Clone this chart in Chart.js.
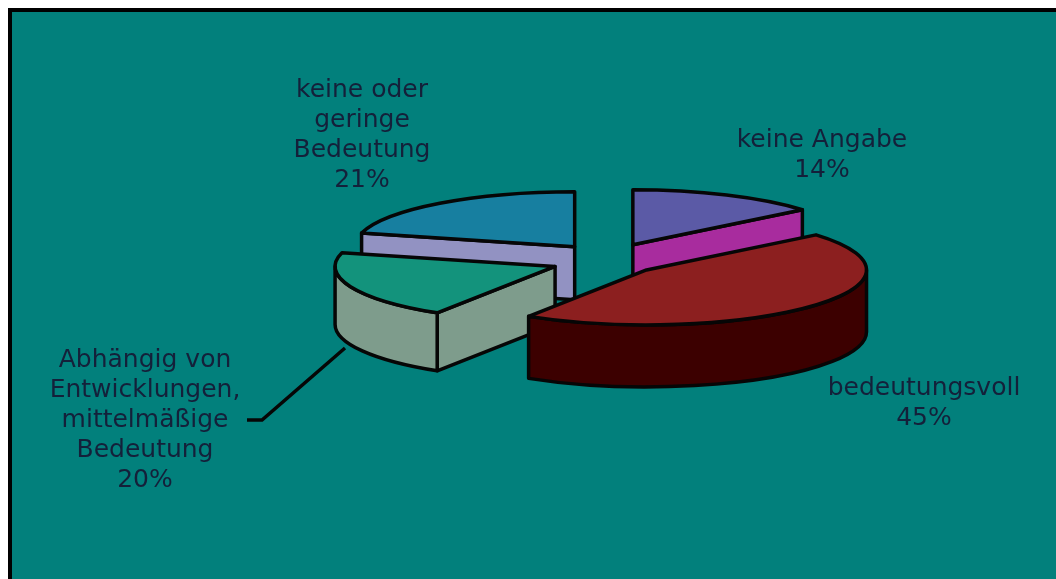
<!DOCTYPE html>
<html>
<head>
<meta charset="utf-8">
<script src="https://cdn.jsdelivr.net/npm/chart.js@4.4.1/dist/chart.umd.min.js"></script>
<style>
  html, body { margin: 0; padding: 0; background: #ffffff; overflow: hidden; }
  #frame {
    position: absolute; left: 8px; top: 8px; right: 0; bottom: 0;
    border-left: 4px solid #000; border-top: 4px solid #000;
    background: #02807c;
  }
  #pieChart { position: absolute; left: 0; top: 0; }
</style>
</head>
<body>
<div id="frame"></div>
<canvas id="pieChart" width="1056" height="579"></canvas>
<script>
// Data, clockwise from 12 o'clock
const categories = ['keine Angabe', 'bedeutungsvoll', 'Abhängig von Entwicklungen, mittelmäßige Bedeutung', 'keine oder geringe Bedeutung'];
const values = [14, 45, 20, 21];
const labelLines = [
    ['keine Angabe'],
    ['bedeutungsvoll'],
    ['Abhängig von', 'Entwicklungen,', 'mittelmäßige', 'Bedeutung'],
    ['keine oder', 'geringe', 'Bedeutung']
];

const topColors = ['#5b5aa6', '#8c1f1f', '#13937c', '#177fa0'];
const sideColors = ['#a82c9e', '#3c0000', '#7e9c8c', '#9292c2'];

// Fake 3D: project the flat pie onto a tilted ellipse and extrude it
const pie3d = {
    id: 'pie3d',
    beforeDatasetsDraw(chart, args, opts) {
        const ctx = chart.ctx;
        const arcs = chart.getDatasetMeta(0).data;
        const mids = arcs.map(a => (a.startAngle + a.endAngle) / 2);
        // back slices first
        const order = arcs.map((a, i) => i).sort((p, q) => Math.sin(mids[p]) - Math.sin(mids[q]));

        ctx.save();
        ctx.lineWidth = 3.5;
        ctx.lineJoin = 'round';
        ctx.strokeStyle = '#060606';

        const paint = (fill) => {
            ctx.fillStyle = fill;
            ctx.fill();
            ctx.stroke();
        };

        order.forEach(i => {
            const arc = arcs[i];
            const { x, y, startAngle: a, endAngle: b, outerRadius: r } =
                arc.getProps(['x', 'y', 'startAngle', 'endAngle', 'outerRadius'], true);
            const off = arc.options.offset;
            const cx = x + Math.cos(mids[i]) * off;
            const cy = y + Math.sin(mids[i]) * off * opts.offsetTilt;
            const ry = r * opts.tilt;
            const D = opts.depth[i];
            const pt = t => [cx + r * Math.cos(t), cy + ry * Math.sin(t)];
            const side = opts.sideColors[i];

            const radialFace = (t) => {
                const p = pt(t);
                ctx.beginPath();
                ctx.moveTo(cx, cy);
                ctx.lineTo(p[0], p[1]);
                ctx.lineTo(p[0], p[1] + D);
                ctx.lineTo(cx, cy + D);
                ctx.closePath();
                paint(side);
            };
            if (Math.cos(a) < -1e-6) radialFace(a);
            if (Math.cos(b) > 1e-6) radialFace(b);

            const t0 = Math.max(a, 0), t1 = Math.min(b, Math.PI);
            if (t1 > t0) {
                const p1 = pt(t1);
                ctx.beginPath();
                ctx.ellipse(cx, cy, r, ry, 0, t0, t1);
                ctx.lineTo(p1[0], p1[1] + D);
                ctx.ellipse(cx, cy + D, r, ry, 0, t1, t0, true);
                ctx.closePath();
                paint(side);
            }

            ctx.beginPath();
            ctx.moveTo(cx, cy);
            ctx.ellipse(cx, cy, r, ry, 0, a, b);
            ctx.closePath();
            paint(arc.options.backgroundColor);
        });
        ctx.restore();
        return false;
    },
    afterDraw(chart, args, opts) {
        const ctx = chart.ctx;
        ctx.save();
        ctx.font = '25px "DejaVu Sans"';
        ctx.textAlign = 'center';
        ctx.textBaseline = 'alphabetic';
        ctx.fillStyle = '#14203a';
        values.forEach((v, i) => {
            const lines = labelLines[i].concat([v + '%']);
            const pos = opts.positions[i];
            lines.forEach((line, j) => ctx.fillText(line, pos[0], pos[1] + j * opts.lineHeight));
        });
        // leader line for the left label
        ctx.strokeStyle = '#060606';
        ctx.lineWidth = 3.5;
        ctx.beginPath();
        opts.leader.forEach((p, j) => j ? ctx.lineTo(p[0], p[1]) : ctx.moveTo(p[0], p[1]));
        ctx.stroke();
        ctx.restore();
    }
};

new Chart(document.getElementById('pieChart'), {
    type: 'pie',
    data: {
        labels: categories,
        datasets: [{
            data: values,
            backgroundColor: topColors,
            borderWidth: 0,
            radius: 220,
            offset: [56, 50, 58, 56]
        }]
    },
    options: {
        responsive: false,
        animation: false,
        layout: { padding: { left: 162, right: 0, top: 0, bottom: 59 } },
        plugins: {
            legend: { display: false },
            tooltip: { enabled: false },
            pie3d: {
                tilt: 0.25,
                offsetTilt: 0.3,
                depth: [55, 62, 58, 53],
                sideColors: sideColors,
                lineHeight: 30,
                positions: [[822, 147], [924, 395], [145, 367], [362, 97]],
                leader: [[247, 420], [262, 420], [345, 348]]
            }
        }
    },
    plugins: [pie3d]
});
</script>
</body>
</html>
